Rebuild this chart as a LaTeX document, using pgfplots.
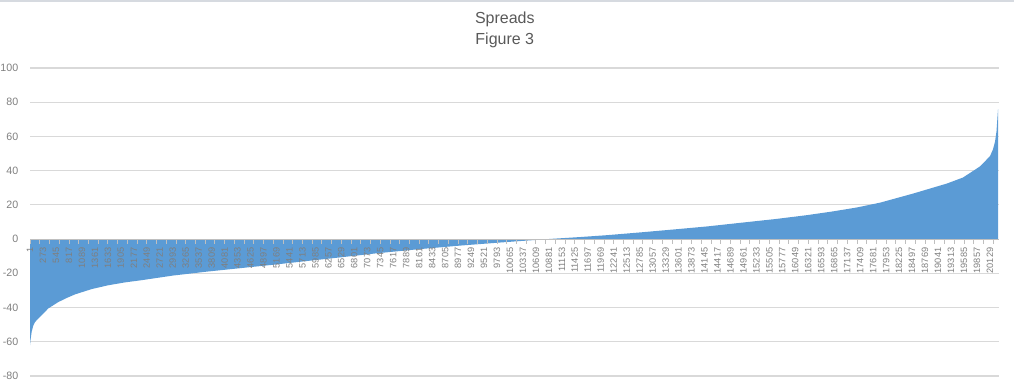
\documentclass[border=0pt]{standalone}
\usepackage{fontspec}
\setmainfont{Liberation Sans}
\usepackage{pgfplots}
\pgfplotsset{compat=1.18}
\pgfplotsset{layers/mylayers/.define layer set={axis background,axis grid,pre main,main,axis ticks,axis lines,axis tick labels,axis descriptions,axis foreground}{
    grid style={/pgfplots/on layer=axis grid},
    tick style={/pgfplots/on layer=axis ticks},
    axis line style={/pgfplots/on layer=axis lines},
    label style={/pgfplots/on layer=axis descriptions},
    legend style={/pgfplots/on layer=axis descriptions},
    title style={/pgfplots/on layer=axis descriptions},
    ticklabel style={/pgfplots/on layer=axis tick labels},
    axis background@ style={/pgfplots/on layer=axis background},
}}
\definecolor{areablue}{HTML}{5B9BD5}
\definecolor{gridgray}{HTML}{D9D9D9}
\definecolor{axisgray}{HTML}{BFBFBF}
\definecolor{labelgray}{HTML}{7F7F7F}
\definecolor{titlegray}{HTML}{595959}
\definecolor{framegray}{HTML}{D6DAE0}
\begin{document}
\begin{tikzpicture}
\begin{axis}[
  set layers=mylayers,
  scale only axis, width=726.75pt, height=231pt,
  at={(22.5pt,9pt)}, anchor=south west,
  xmin=0.5, xmax=20320.5, ymin=-80, ymax=100,
  axis x line=middle, axis y line=left,
  x axis line style={draw=axisgray, line width=0.8pt, -},
  y axis line style={draw=none},
  ytick={-80,-60,...,100},
  ymajorgrids, grid style={gridgray, line width=0.8pt},
  ytick style={draw=none},
  yticklabel style={font=\fontsize{8}{9}\selectfont, text=labelgray, xshift=-1pt},
  /pgf/number format/assume math mode=true,
  scaled x ticks=false,
  xtick={1,273,...,20129},
  major x tick style={draw=none},
  minor xtick={0.5,204.5,...,20320},
  minor x tick style={draw=axisgray, line width=0.6pt},
  minor tick length=3.5pt,
  tick align=outside,
  xticklabel style={rotate=90, anchor=east, font=\fontsize{6.9}{7}\selectfont, text=labelgray, inner sep=2pt,
    /pgf/number format/fixed, /pgf/number format/precision=0, /pgf/number format/1000 sep={}},
  title={Spreads\\Figure 3},
  title style={align=center, font=\fontsize{12}{16}\selectfont, text=titlegray,
    at={(axis description cs:0.49,1)}, anchor=south, yshift=9pt, inner sep=0pt},
]
\addplot[fill=areablue, draw=none] coordinates {
(1,-62) (11,-59) (37,-54) (70,-50.5) (106,-48.5) (141,-47.4) (246,-44.4)
(385,-40.5) (594,-36.8) (770,-34.4) (945,-32.3) (1295,-29.2) (1637,-27)
(1993,-25.3) (2343,-24) (3000,-21.3) (3713,-19) (4405,-17) (5097,-15)
(5810,-12.8) (6502,-10.7) (7236,-8.4) (8116,-6) (9018,-3.8) (9857,-2)
(10549,-0.6) (10905,0.1) (11534,1.2) (12101,2.3) (12793,3.9) (13485,5.6)
(14198,7.4) (14890,9.5) (15624,11.7) (16294,14) (16840,16.2) (17343,18.5)
(17826,21.3) (18518,26.6) (19231,32.5) (19566,36) (19923,42.5) (20132,48.5)
(20195,52.5) (20237,57) (20268,63) (20290,72) (20300,76)
} \closedcycle;
\end{axis}
\draw[framegray, line width=1.2pt] (0,290.4pt) -- (760.5pt,290.4pt);
\pgfresetboundingbox
\useasboundingbox (0,0) rectangle (760.5pt,291pt);
\end{tikzpicture}
\end{document}
